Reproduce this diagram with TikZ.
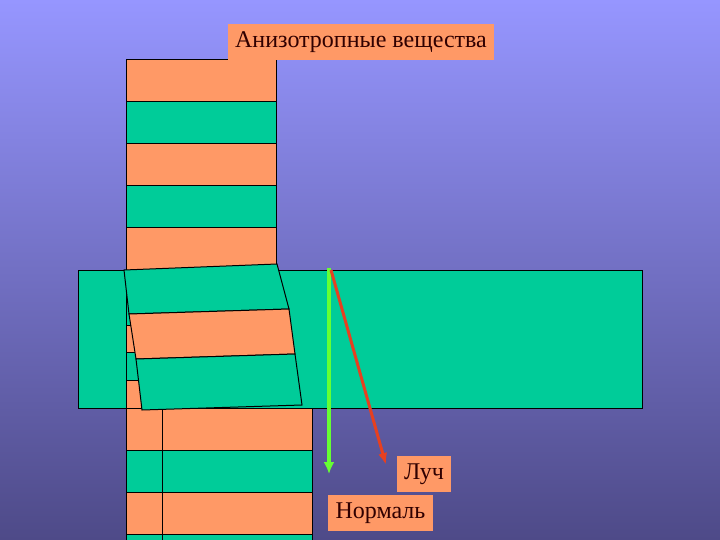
\documentclass[tikz,border=0pt]{standalone}
\usepackage{fontspec}
\setmainfont{Liberation Serif}
\usepackage{tikz}
\usetikzlibrary{arrows.meta}
\definecolor{slidetop}{RGB}{150,150,255}
\definecolor{slidebot}{RGB}{78,74,136}
\definecolor{layerorange}{RGB}{255,153,102}
\definecolor{layergreen}{RGB}{0,204,153}
\definecolor{labeltext}{RGB}{48,0,0}
\definecolor{normalgreen}{RGB}{102,255,51}
\definecolor{rayred}{RGB}{230,64,32}

\begin{document}
\begin{tikzpicture}[x=1pt, y=-1pt, line width=1pt,
    lbl/.style={fill=layerorange, text=labeltext, inner sep=0pt,
      minimum height=36pt, font=\fontsize{24}{24}\selectfont}]
    \useasboundingbox (0,0) rectangle (720,540);
    \shade[top color=slidetop, bottom color=slidebot] (0,0) rectangle (720,540);

    % upper part of the column
    \foreach \y/\c in {60/layerorange,102/layergreen,144/layerorange,186/layergreen,228/layerorange}
      \draw[fill=\c] (126,\y) rectangle (276,\y+42);

    % plate
    \draw[fill=layergreen] (78,270) rectangle (642,408);

    % column behind the turned block
    \foreach \a/\b/\c in {270/325/layergreen,325/352/layerorange,352/380/layergreen,380/408/layerorange}
      \draw[fill=\c] (126,\a) rectangle (162,\b);

    % lower part of the column
    \foreach \y/\c in {408/layerorange,450/layergreen,492/layerorange,534/layergreen} {
      \draw[fill=\c] (126,\y) rectangle (162,\y+42);
      \draw[fill=\c] (162,\y) rectangle (312,\y+42);
    }

    % turned block
    \draw[fill=layergreen] (124,270) -- (277,264) -- (289,309) -- (129,314) -- cycle;
    \draw[fill=layerorange] (129,314) -- (289,309) -- (295,354) -- (136,359) -- cycle;
    \draw[fill=layergreen] (136,359) -- (295,354) -- (302,405) -- (142,410) -- cycle;

    % normal and ray
    \coordinate (nstart) at (329,268);
    \coordinate (nend) at (329,474);
    \coordinate (rstart) at (331,270);
    \coordinate (rend) at (386,465);
    \draw[-{Latex[length=12pt,width=11pt]}, line width=4pt, normalgreen] (nstart) -- (nend);
    \draw[-{Latex[length=12pt,width=9pt]}, line width=3pt, rayred] (rstart) -- (rend);

    \node[lbl, minimum width=266pt] (title) at (361,42) {Анизотропные вещества};
    \node[lbl, minimum width=54pt] (ray) at (424,474) {Луч};
    \node[lbl, minimum width=105pt] (normal) at (380.5,513) {Нормаль};
\end{tikzpicture}
\end{document}
